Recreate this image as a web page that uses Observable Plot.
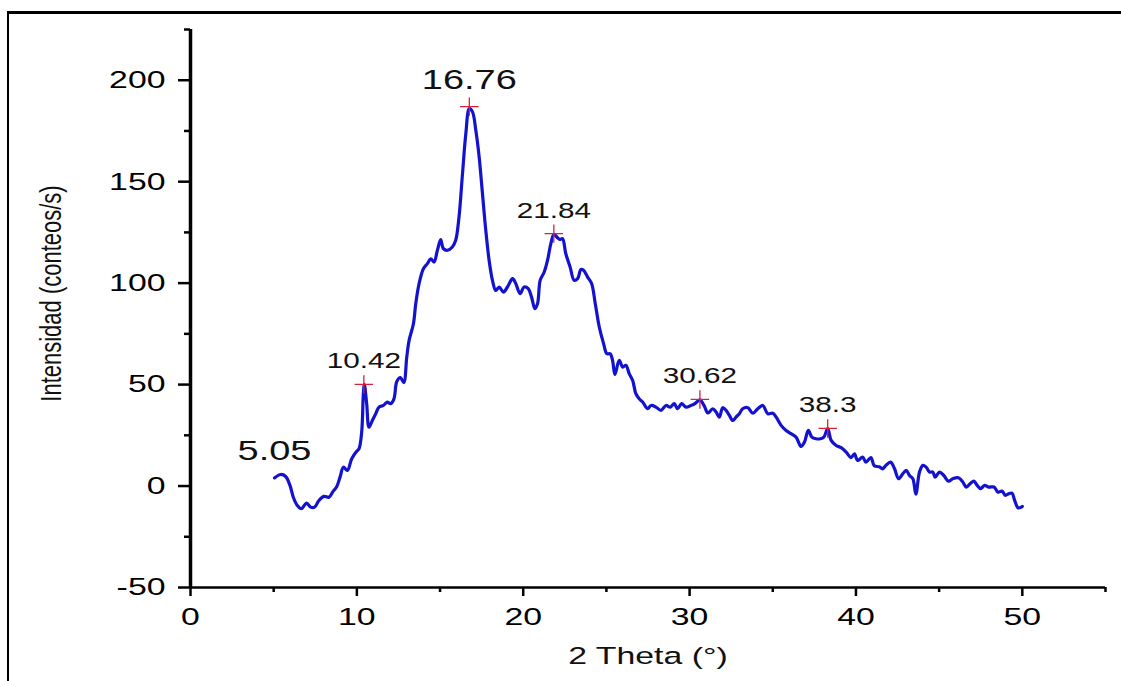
<!DOCTYPE html>
<html><head><meta charset="utf-8">
<script src="https://cdn.jsdelivr.net/npm/d3@7"></script>
<script src="https://cdn.jsdelivr.net/npm/@observablehq/plot@0.6"></script>
<style>
html,body{margin:0;padding:0;background:#fff;}
#wrap{position:relative;width:1121px;height:681px;overflow:hidden;background:#fff;}
#chart{position:absolute;left:0;top:0;}
#frame{position:absolute;left:7px;top:11px;right:0;bottom:0;border-left:2px solid #000;border-top:3px solid #000;pointer-events:none;}
</style></head><body><div id="wrap"><div id="chart"></div><div id="frame"></div></div>
<script>
// ---- data ----
const theta = [5.05,5.42,5.72,5.98,6.18,6.42,6.66,6.98,7.22,7.46,7.72,8.02,8.32,8.58,8.78,8.99,9.19,9.43,9.69,9.99,
  10.13,10.29,10.39,10.45,10.59,10.73,10.93,11.13,11.33,11.59,11.83,12.03,12.23,12.40,12.62,12.82,13.0,13.14,13.4,13.54,
  13.74,14.0,14.24,14.44,14.64,14.84,15.04,15.2,15.44,15.74,15.94,16.14,16.35,16.55,16.76,16.95,17.15,17.35,17.55,17.75,
  17.95,18.15,18.35,18.55,18.81,19.05,19.36,19.55,19.81,20.05,20.3,20.5,20.7,20.86,21.02,21.26,21.46,21.66,21.84,22.06,
  22.2,22.36,22.56,22.82,23.06,23.27,23.47,23.63,23.87,24.11,24.33,24.57,24.83,25.03,25.23,25.37,25.51,25.77,25.98,26.17,
  26.37,26.58,26.77,26.97,27.18,27.48,27.68,27.98,28.28,28.58,28.84,29.08,29.28,29.52,29.78,30.08,30.32,30.62,30.88,31.1,
  31.39,31.59,31.79,31.99,32.19,32.39,32.6,32.79,32.99,33.19,33.5,33.8,34.1,34.4,34.7,35.0,35.2,35.5,35.8,36.1,
  36.4,36.7,36.9,37.14,37.35,37.6,37.86,38.07,38.3,38.51,38.81,39.11,39.41,39.71,39.91,40.1,40.4,40.6,40.9,41.1,
  41.4,41.6,41.8,42.08,42.32,42.56,42.82,43.02,43.22,43.42,43.6,43.82,44.02,44.22,44.42,44.62,44.76,45.02,45.28,45.56,
  45.82,46.16,46.43,46.63,46.89,47.09,47.29,47.49,47.73,47.97,48.3,48.54,48.78,48.98,49.18,49.38,49.54,49.74,49.94,50.0];
const intensity = [4.0,5.7,4.7,0.3,-5.5,-9.6,-11.2,-8.4,-10.4,-10.4,-7.1,-5.1,-5.5,-2.5,-0.5,4.4,9.3,7.7,13.5,17.2,
  18.4,26.6,45.5,50.0,40.6,29.0,32.3,35.6,38.9,39.7,41.4,40.6,43.0,51.5,53.5,51.0,63.6,71.8,80,89.9,
  99.8,107.1,109.6,112,110.4,116.2,121.4,117,116.2,117.8,121.1,132.6,154,173.7,186.0,184.4,175.3,162.2,144.1,126,
  111.2,101.4,96.4,98.1,95.6,98.1,102.2,99.8,94.8,98.1,97.3,93.1,87.4,89.9,101.4,105.5,111.2,119.5,124.0,122.4,
  121.5,121.9,114.5,107.9,101.4,102.2,106.7,106.3,103,99.8,89.9,78.4,70.2,65.2,65.2,61.9,55,61.9,58.6,59.5,
  55.4,52,45.5,43,41.4,38.1,39.7,38.9,37.3,39.7,38.9,40.6,38.1,40.6,38.9,39.7,40.6,42.5,39.5,36.0,
  38.1,36.5,34,38.6,37.3,34.8,32.3,34,35.6,38.1,38.6,35.9,38.1,39.7,35.6,35.9,34,29.9,27.4,25.8,
  24.1,19.5,21.6,27.4,24.1,23.3,23.3,24.1,28.3,22.5,20,18.9,16.7,14,15.9,12.6,14.3,11.8,14,10,
  9.5,8.5,10.2,11.8,8.5,3.6,6.1,7.7,5.2,3.6,-4,6.9,10.2,9.3,6.9,6.9,4.4,6.9,5.2,2.4,
  3.6,4.1,1.9,-0.5,1.4,2.4,0.3,-1.3,0.3,-0.5,-0.5,-3,-2.5,-4.6,-3.8,-3.5,-7.1,-10.7,-10.4,-10];

const peakTheta = [10.42, 16.76, 21.84, 30.62, 38.3];
const peakIntensity = [50.1, 187, 124.4, 42.7, 28.4];
const smallLabelText = ["10.42", "21.84", "30.62", "38.3"];
const smallLabelTheta = [10.42, 21.84, 30.62, 38.3];
const smallLabelY = [50.1, 124.4, 42.7, 28.4];
const bigLabelText = ["5.05", "16.76"];
const bigLabelTheta = [5.05, 16.76];
const bigLabelY = [4.0, 187];

const xTicks = [0, 10, 20, 30, 40, 50];
const xMinor = [5, 15, 25, 35, 45, 55];
const yTicks = [-50, 0, 50, 100, 150, 200];
const yMinor = [-25, 25, 75, 125, 175, 225];

const xTitle = "2 Theta (°)";
const yTitle = "Intensidad (conteos/s)";

// ---- tables built from the arrays ----
const curve = theta.map((t, i) => ({t, v: intensity[i]}));
const peaks = peakTheta.map((t, i) => ({t, v: peakIntensity[i]}));
const smallLabels = smallLabelText.map((s, i) => ({s, t: smallLabelTheta[i], v: smallLabelY[i]}));
const bigLabels = bigLabelText.map((s, i) => ({s, t: bigLabelTheta[i], v: bigLabelY[i]}));

const font = "'Liberation Sans', Arial, sans-serif";
const plain = d => String(d);

const chart = Plot.plot({
  width: 1121,
  height: 681,
  marginLeft: 190,
  marginRight: 16,
  marginTop: 29,
  marginBottom: 94,
  style: {fontFamily: font, color: "#000", background: "transparent", overflow: "visible"},
  x: {domain: [0, 55], axis: null},
  y: {domain: [-50, 225], axis: null},
  marks: [
    Plot.axisX(xTicks, {tickSize: 9, tickPadding: 11, strokeWidth: 2.5, fontSize: 24.5, label: null, fill: "#000", tickFormat: plain}),
    Plot.axisX(xMinor, {tickSize: 5, strokeWidth: 2.5, tickFormat: () => "", label: null}),
    Plot.axisY(yTicks, {tickSize: 12, tickPadding: 13, strokeWidth: 2.5, fontSize: 24.5, label: null, fill: "#000", tickFormat: plain}),
    Plot.axisY(yMinor, {tickSize: 6, strokeWidth: 2.5, tickFormat: () => "", label: null}),
    Plot.ruleY([-50], {stroke: "#000", strokeWidth: 2.5}),
    Plot.ruleX([0], {stroke: "#000", strokeWidth: 3.5}),
    Plot.line(curve, {x: "t", y: "v", stroke: "#1212cf", strokeWidth: 3.2, curve: "catmull-rom"}),
    Plot.dot(peaks, {x: "t", y: "v", symbol: "plus", r: 6, stroke: "#d8203e", strokeWidth: 1.3}),
    Plot.text(smallLabels, {x: "t", y: "v", text: "s", dy: -16, lineAnchor: "bottom", fontSize: 21.5, fill: "#111"}),
    Plot.text(bigLabels, {x: "t", y: "v", text: "s", dy: -18, lineAnchor: "bottom", fontSize: 27.5, fill: "#111"}),
    Plot.text([xTitle], {frameAnchor: "bottom", dy: 69, lineAnchor: "middle", textAnchor: "middle", fontSize: 24.5, fill: "#111"}),
    Plot.text([yTitle], {frameAnchor: "left", dx: -139, dy: -15, rotate: -90, lineAnchor: "middle", textAnchor: "middle", fontSize: 22, fill: "#111"})
  ]
});
document.getElementById("chart").appendChild(chart);

// the reference image is horizontally stretched: widen horizontal text glyphs to match
const stretch = 1.38;
chart.querySelectorAll("text").forEach(t => {
  const tr = t.getAttribute("transform") || "";
  if (tr.includes("rotate")) {
    t.setAttribute("transform", tr + " scale(1," + stretch + ")");
    return;
  }
  const len = t.getComputedTextLength();
  if (len > 0) {
    t.setAttribute("textLength", (len * stretch).toFixed(1));
    t.setAttribute("lengthAdjust", "spacingAndGlyphs");
  }
});
</script>
</body></html>
